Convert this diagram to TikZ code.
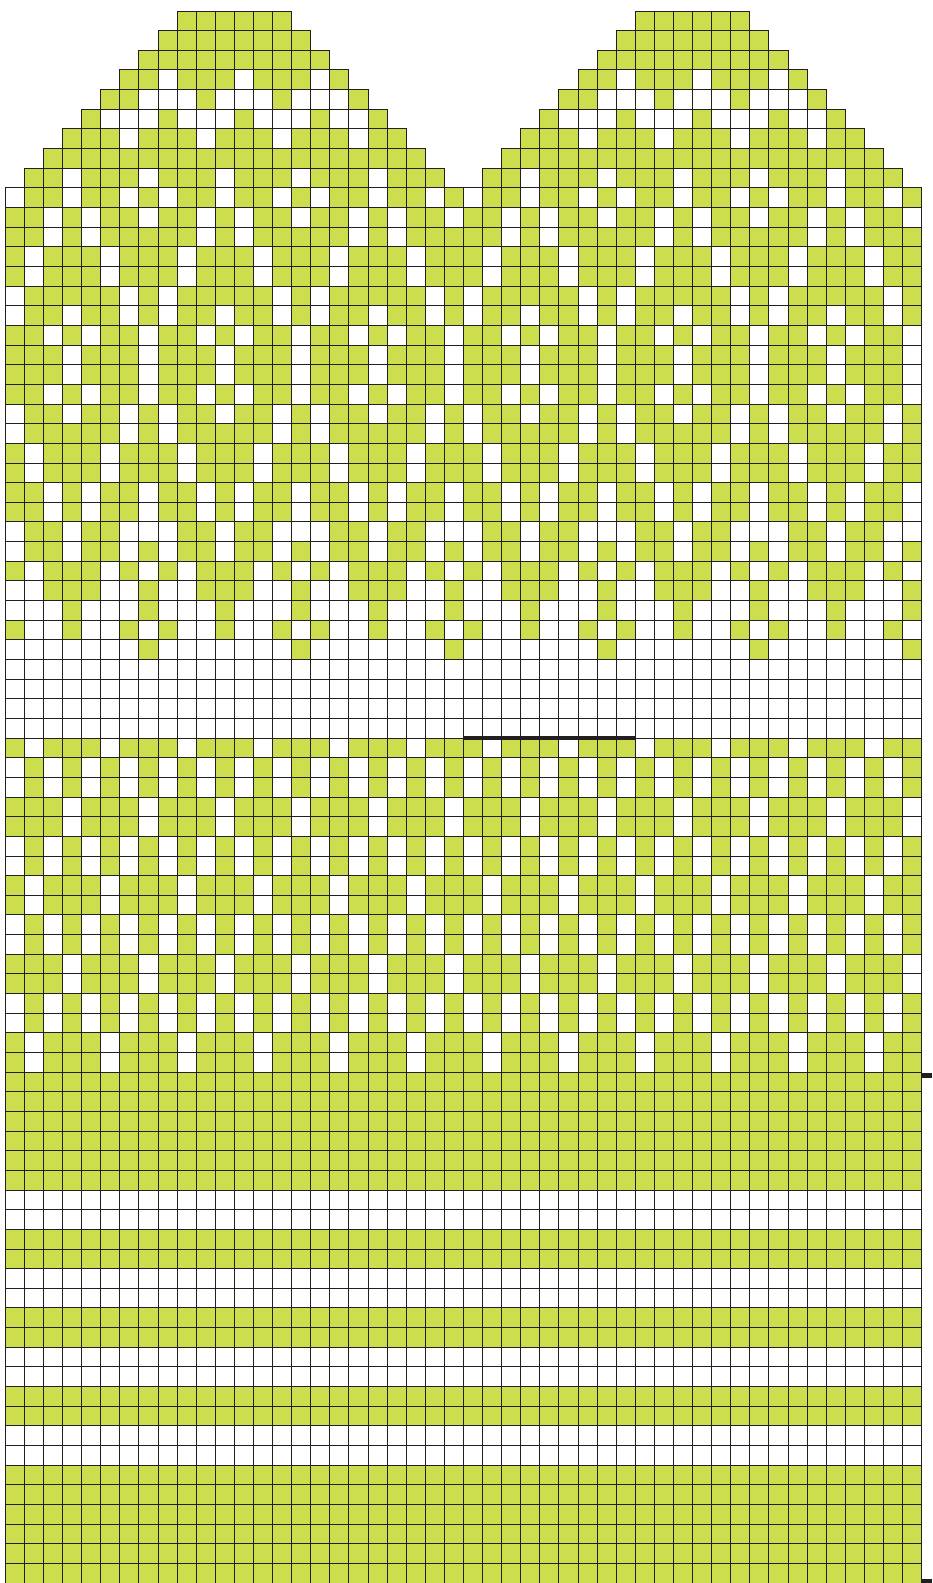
\documentclass[tikz,border=0pt]{standalone}
\usepackage{tikz}
\definecolor{mitgreen}{RGB}{204,221,78}
\definecolor{gridblack}{RGB}{35,31,32}
\begin{document}
\begin{tikzpicture}[x=0.5pt,y=-0.5pt,
  cellg/.style={fill=mitgreen},
  cellw/.style={fill=white},
  gridline/.style={draw=gridblack,line width=0.45pt},
  thumbmark/.style={draw=gridblack,line width=2pt},
  sidemark/.style={draw=gridblack,line width=2.5pt}]
\def\cw{19.09}\def\ch{19.65}\def\xo{5.3}\def\yo{11}
\useasboundingbox (0,0) rectangle (932,1583);
\clip (0,0) rectangle (932,1583);
% solid green bands of the cuff and lower hand
\foreach \a/\b in {54/60,62/64,66/68,70/72,74/80}{
  \fill[cellg] ({\xo},{\yo+\ch*\a}) rectangle ({\xo+\cw*48},{\yo+\ch*\b});
}
% patterned body rows: 8-column repeat, bit i set = green at column mod 8 = i
\foreach \r/\v in {9/182,10/107,11/235,12/221,13/221,14/190,15/182,16/107,17/119,18/119,19/107,20/182,21/190,22/221,23/221,24/107,25/107,26/54,27/182,28/93,29/156,30/136,31/73,32/128,37/221,38/170,39/170,40/119,41/119,42/170,43/170,44/221,45/221,46/170,47/170,48/119,49/119,50/170,51/170,52/221,53/221}{
  \foreach \c in {0,...,47}{
    \pgfmathtruncatemacro{\bit}{mod(floor(\v/(2^mod(\c,8))),2)}
    \ifnum\bit=1
      \fill[cellg] ({\xo+\cw*\c},{\yo+\ch*\r}) rectangle ++(\cw,\ch);
    \fi
  }
}
% body grid
\foreach \r in {9,...,80}{
  \draw[gridline] ({\xo},{\yo+\ch*\r}) -- ({\xo+\cw*48},{\yo+\ch*\r});
}
\foreach \c in {0,...,48}{
  \draw[gridline] ({\xo+\cw*\c},{\yo+\ch*9}) -- ({\xo+\cw*\c},{\yo+\ch*80});
}
% top shaping of both halves
\foreach \r/\a/\b in {0/9/14,1/8/15,2/7/16,3/6/17,4/5/18,5/4/19,6/3/20,7/2/21,8/1/22}{
  \foreach \o in {0,24}{
    \foreach \c in {\a,...,\b}{
      \filldraw[cellg,gridline] ({\xo+\cw*(\c+\o)},{\yo+\ch*\r}) rectangle ++(\cw,\ch);
    }
  }
}
\foreach \r/\c in {3/8,3/12,3/16,
  4/7,4/8,4/9,4/11,4/12,4/13,4/15,4/16,4/17,
  5/5,5/6,5/7,5/9,5/10,5/11,5/13,5/14,5/15,5/17,5/18,
  6/6,6/10,6/14,6/18,
  8/3,8/7,8/11,8/15,8/19}{
  \foreach \o in {0,24}{
    \filldraw[cellw,gridline] ({\xo+\cw*(\c+\o)},{\yo+\ch*\r}) rectangle ++(\cw,\ch);
  }
}
% markers
\coordinate (thumbL) at ({\xo+\cw*24},{\yo+\ch*37});
\coordinate (thumbR) at ({\xo+\cw*33},{\yo+\ch*37});
\draw[thumbmark] (thumbL) -- (thumbR);
\coordinate (markA) at ({\xo+\cw*48},1075.8);
\coordinate (markAend) at (932,1075.8);
\draw[sidemark] (markA) -- (markAend);
\coordinate (markB) at ({\xo+\cw*48},1581.5);
\coordinate (markBend) at (932,1581.5);
\draw[sidemark] (markB) -- (markBend);
\end{tikzpicture}
\end{document}
